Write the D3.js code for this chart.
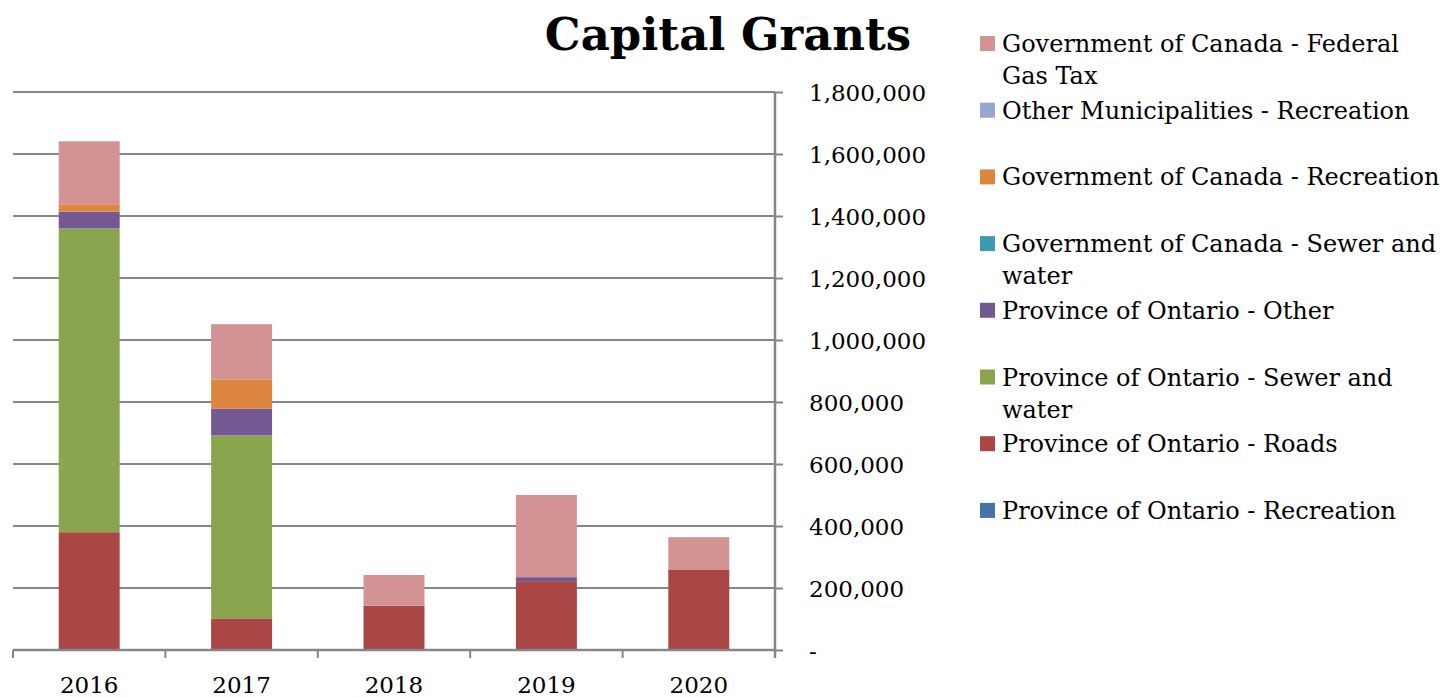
<!DOCTYPE html>
<html>
<head>
<meta charset="utf-8">
<script src="https://cdn.jsdelivr.net/npm/d3@7"></script>
<style>
  html, body { margin: 0; padding: 0; background: #ffffff; }
  svg { display: block; }
  text { font-family: "DejaVu Serif", "Liberation Serif", serif; fill: #000; }
</style>
</head>
<body>
<svg id="chart" width="1445" height="697"></svg>
<script>
// Capital grants by source, stacked per year
const years = ["2016", "2017", "2018", "2019", "2020"];

// Series listed bottom-of-stack first
const seriesNames = [
  "Province of Ontario - Recreation",
  "Province of Ontario - Roads",
  "Province of Ontario - Sewer and water",
  "Province of Ontario - Other",
  "Government of Canada - Sewer and water",
  "Government of Canada - Recreation",
  "Other Municipalities - Recreation",
  "Government of Canada - Federal Gas Tax"
];
const seriesColors = [
  "#4572A7", "#AA4644", "#89A54E", "#735993",
  "#3D9AB1", "#DD8640", "#95A9D0", "#D39392"
];

const provRecreation = [0, 0, 0, 0, 0];
const provRoads      = [380000, 102000, 143000, 222000, 260000];
const provSewer      = [980000, 590000, 0, 0, 0];
const provOther      = [54000, 86000, 0, 13000, 0];
const fedSewer       = [0, 0, 0, 0, 0];
const fedRecreation  = [24000, 95000, 0, 0, 0];
const muniRecreation = [0, 0, 0, 0, 0];
const fedGasTax      = [203000, 178000, 99000, 265000, 104000];

const yTicks = [0, 200000, 400000, 600000, 800000, 1000000, 1200000, 1400000, 1600000, 1800000];

const seriesValues = [provRecreation, provRoads, provSewer, provOther,
                      fedSewer, fedRecreation, muniRecreation, fedGasTax];

const rows = years.map((yr, i) => {
  const r = { year: yr };
  seriesNames.forEach((n, k) => { r[n] = seriesValues[k][i]; });
  return r;
});

const svg = d3.select("#chart");
const plot = { left: 13, right: 775, top: 92, bottom: 650 };
const gridColor = "#868686";

const x = d3.scaleBand()
  .domain(years)
  .range([plot.left, plot.right])
  .paddingInner(0.6)
  .paddingOuter(0.3);

const y = d3.scaleLinear()
  .domain([0, 1800000])
  .range([plot.bottom, plot.top]);

// Horizontal gridlines
svg.append("g")
  .selectAll("line")
  .data(yTicks.filter(d => d > 0))
  .join("line")
  .attr("x1", plot.left).attr("x2", plot.right)
  .attr("y1", d => y(d)).attr("y2", d => y(d))
  .attr("stroke", gridColor).attr("stroke-width", 2);

// Stacked bars
const stack = d3.stack().keys(seriesNames)(rows);
svg.append("g")
  .selectAll("g")
  .data(stack)
  .join("g")
  .attr("fill", (d, i) => seriesColors[i])
  .selectAll("rect")
  .data(d => d.filter(s => s[1] - s[0] > 0))
  .join("rect")
  .attr("x", d => x(d.data.year))
  .attr("width", x.bandwidth())
  .attr("y", d => y(d[1]))
  .attr("height", d => y(d[0]) - y(d[1]));

// Right value axis
const fmt = d3.format(",");
const yAxis = svg.append("g")
  .attr("transform", `translate(${plot.right},0)`)
  .call(d3.axisRight(y)
    .tickValues(yTicks)
    .tickSize(8)
    .tickPadding(26)
    .tickFormat(d => d === 0 ? "-" : fmt(d)));
yAxis.select(".domain").attr("stroke", gridColor).attr("stroke-width", 2.5)
  .attr("d", `M0,${plot.bottom + 8}V${plot.top}`);
yAxis.selectAll(".tick line").attr("stroke", gridColor).attr("stroke-width", 2);
yAxis.selectAll(".tick text")
  .attr("text-anchor", "start")
  .attr("dy", "0.36em")
  .style("font-family", '"DejaVu Serif", serif')
  .style("font-size", "23px")
  .attr("fill", "#000");

// Category axis along the bottom with ticks between bars
const step = x.step();
const gapHalf = (step - x.bandwidth()) / 2;
const boundaries = years.map(d => x(d) - gapHalf).concat([plot.right]);
const xAxis = svg.append("g");
xAxis.append("line")
  .attr("x1", plot.left).attr("x2", plot.right)
  .attr("y1", plot.bottom).attr("y2", plot.bottom)
  .attr("stroke", gridColor).attr("stroke-width", 2.5);
xAxis.selectAll("line.tk")
  .data(boundaries)
  .join("line")
  .attr("class", "tk")
  .attr("x1", d => d).attr("x2", d => d)
  .attr("y1", plot.bottom).attr("y2", plot.bottom + 8)
  .attr("stroke", gridColor).attr("stroke-width", 2);
xAxis.selectAll("text")
  .data(years)
  .join("text")
  .attr("x", d => x(d) + x.bandwidth() / 2)
  .attr("y", 693)
  .attr("text-anchor", "middle")
  .style("font-size", "23px")
  .text(d => d);

// Title
svg.append("text")
  .attr("x", 728)
  .attr("y", 50)
  .attr("text-anchor", "middle")
  .style("font-size", "45px")
  .style("font-weight", "bold")
  .text("Capital Grants");

// Legend (top of stack listed first)
const legendX = 980;
const legendTop = 52;
const legendGap = 66.7;
const lineGap = 32;
const wrapWidth = 442;
const legend = svg.append("g");
const order = d3.range(seriesNames.length).reverse();
order.forEach((k, i) => {
  const base = legendTop + i * legendGap;
  legend.append("rect")
    .attr("x", legendX).attr("y", base - 16)
    .attr("width", 15).attr("height", 15)
    .attr("fill", seriesColors[k]);
  const t = legend.append("text")
    .attr("x", legendX + 22).attr("y", base)
    .style("font-size", "24px");
  // greedy word wrap
  const words = seriesNames[k].split(" ");
  let line = [];
  let ts = t.append("tspan").attr("x", legendX + 22).attr("y", base);
  let lineNo = 0;
  words.forEach(w => {
    line.push(w);
    ts.text(line.join(" "));
    if (ts.node().getComputedTextLength() > wrapWidth && line.length > 1) {
      line.pop();
      ts.text(line.join(" "));
      line = [w];
      lineNo += 1;
      ts = t.append("tspan").attr("x", legendX + 22).attr("y", base + lineNo * lineGap).text(w);
    }
  });
});
</script>
</body>
</html>
